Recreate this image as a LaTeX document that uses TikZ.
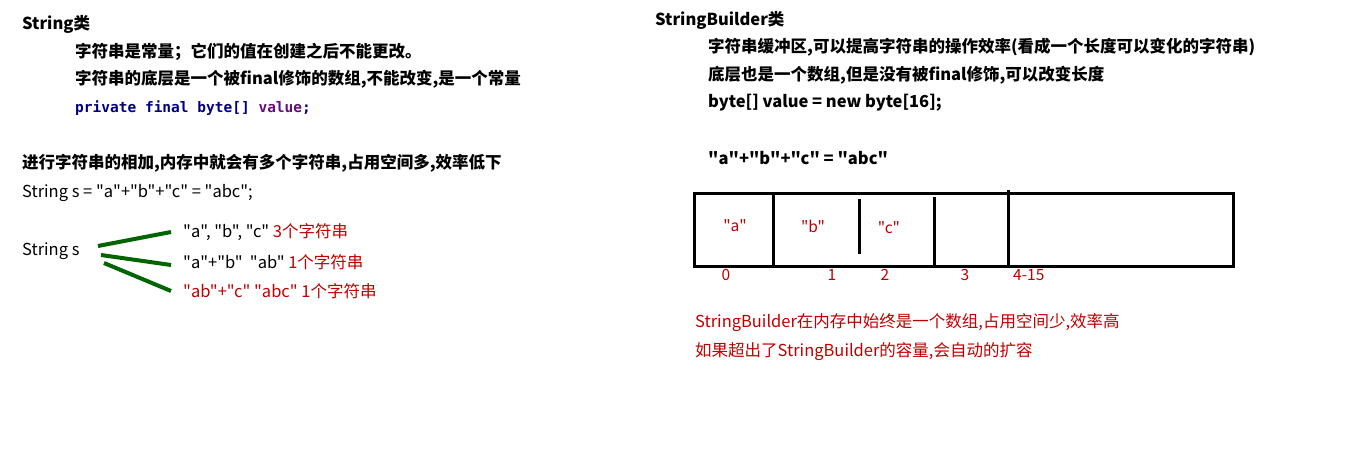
\documentclass[tikz,border=0pt]{standalone}
\usepackage{fontspec}
\newfontfamily\yhfont{Noto Sans CJK SC}
\setmonofont{DejaVu Sans Mono}
\definecolor{notered}{HTML}{C00000}
\definecolor{forkgreen}{HTML}{006400}
\definecolor{codenavy}{HTML}{000080}
\definecolor{codepurple}{HTML}{660E7A}

\begin{document}
\begin{tikzpicture}[x=1pt,y=-1pt,
  txt/.style={anchor=west,inner sep=0pt,font=\fontsize{16.5}{19}\yhfont\bfseries},
  plaintxt/.style={anchor=west,inner sep=0pt,font=\fontsize{16.5}{19}\yhfont},
  redtxt/.style={plaintxt,text=notered},
  celltxt/.style={inner sep=0pt,text=notered,font=\fontsize{15.5}{18}\yhfont},
  fork/.style={draw=forkgreen,line width=4pt},
  cellwall/.style={line width=3pt}]
  \useasboundingbox[fill=white] (0,0) rectangle (1368,458);

  \node[txt] (strhead) at (22,24) {String类};
  \node[txt] (strline1) at (75,52) {字符串是常量；它们的值在创建之后不能更改。};
  \node[txt] (strline2) at (75,79) {字符串的底层是一个被final修饰的数组,不能改变,是一个常量};
  \node[txt,font=\fontsize{14.5}{17}\selectfont\ttfamily\bfseries,text=codenavy] (strcode) at (75,108)
    {private final byte[] \textcolor{codepurple}{value};};

  \node[txt] (addnote) at (22,163) {进行字符串的相加,内存中就会有多个字符串,占用空间多,效率低下};
  \node[plaintxt] (streq) at (22,193) {String s = "a"+"b"+"c" = "abc";};
  \node[plaintxt] (strs) at (22,251) {String s};
  \node[plaintxt] (part1) at (183,232) {"a", "b", "c" \textcolor{notered}{3个字符串}};
  \node[plaintxt] (part2) at (183,262) {"a"+"b"~~"ab" \textcolor{notered}{1个字符串}};
  \node[redtxt] (part3) at (183,291) {"ab"+"c" "abc" 1个字符串};

  \coordinate (fork1) at (98,246);
  \coordinate (fork2) at (101,255);
  \coordinate (fork3) at (104,263);
  \draw[fork] (fork1) -- ([xshift=-12pt]part1.west);
  \draw[fork] (fork2) -- ([xshift=-12pt,yshift=-3pt]part2.west);
  \draw[fork] (fork3) -- ([xshift=-12pt]part3.west);

  \node[txt] (sbhead) at (655,20) {StringBuilder类};
  \node[txt] (sbline1) at (708,47) {字符串缓冲区,可以提高字符串的操作效率(看成一个长度可以变化的字符串)};
  \node[txt] (sbline2) at (708,75) {底层也是一个数组,但是没有被final修饰,可以改变长度};
  \node[txt] (sbcode) at (708,103) {byte[] value = new byte[16];};
  \node[txt] (sbeq) at (708,158) {"a"+"b"+"c" = "abc"};

  \draw[cellwall] (694,193) rectangle (1233,266);
  \draw[cellwall] (773,193) -- (773,266);
  \draw[cellwall] (859,199) -- (859,254);
  \draw[cellwall] (934,197) -- (934,266);
  \draw[cellwall] (1008,190) -- (1008,266);

  \node[celltxt] (cella) at (735,226) {"a"};
  \node[celltxt] (cellb) at (813,226) {"b"};
  \node[celltxt] (cellc) at (889,228) {"c"};

  \node[celltxt] (idx0) at (726,275) {0};
  \node[celltxt] (idx1) at (832,275) {1};
  \node[celltxt] (idx2) at (885,275) {2};
  \node[celltxt] (idx3) at (965,275) {3};
  \node[celltxt,anchor=west] (idx4) at (1013,275) {4-15};

  \node[redtxt] (sbnote1) at (695,323) {StringBuilder在内存中始终是一个数组,占用空间少,效率高};
  \node[redtxt] (sbnote2) at (695,352) {如果超出了StringBuilder的容量,会自动的扩容};
\end{tikzpicture}
\end{document}
